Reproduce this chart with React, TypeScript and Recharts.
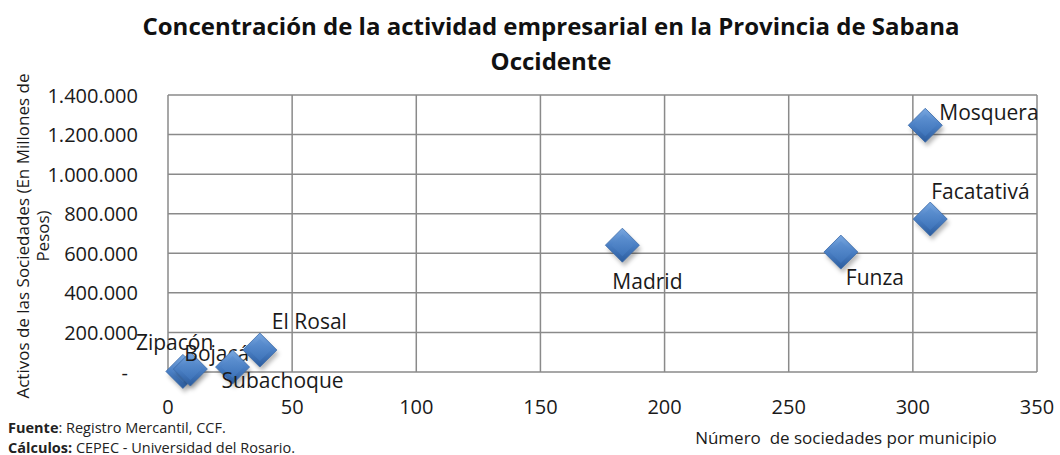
import React from "react";
import { ScatterChart, Scatter, XAxis, YAxis, CartesianGrid } from "recharts";

const municipios = ["Zipacón", "Bojacá", "Subachoque", "El Rosal", "Madrid", "Funza", "Mosquera", "Facatativá"];
const sociedades = [6, 9, 26, 37, 183, 271, 305, 307];
const activos = [3000, 15000, 25000, 111000, 641000, 606000, 1247000, 773000];
const xTicks = [0, 50, 100, 150, 200, 250, 300, 350];
const yTicks = [0, 200000, 400000, 600000, 800000, 1000000, 1200000, 1400000];

const title1 = "Concentración de la actividad empresarial en la Provincia de Sabana";
const title2 = "Occidente";
const xLabel = "Número  de sociedades por municipio";
const yLabel1 = "Activos de las Sociedades (En Millones de";
const yLabel2 = "Pesos)";

const data = municipios.map((m, i) => ({ name: m, x: sociedades[i], y: activos[i] }));

// label placement relative to marker centre: dx = left edge offset, dy = vertical centre offset
const labelPlace: Record<string, [number, number]> = {
  "Zipacón": [-47, -29],
  "Bojacá": [-6, -16],
  "Subachoque": [-11, 13],
  "El Rosal": [12, -29],
  "Madrid": [-10, 36],
  "Funza": [5, 25],
  "Mosquera": [14, -13],
  "Facatativá": [1, -28],
};

const FONT = "'Open Sans', sans-serif";

const fmt = (v: number) => String(v).replace(/\B(?=(\d{3})+(?!\d))/g, ".");

const Diamond = (props: any) => {
  const { cx, cy, payload } = props;
  if (cx == null || cy == null) return null;
  const r = 17;
  const pts = `${cx},${cy - r} ${cx + r},${cy} ${cx},${cy + r} ${cx - r},${cy}`;
  const sh = `${cx + 2},${cy - r + 4} ${cx + r + 2},${cy + 4} ${cx + 2},${cy + r + 4} ${cx - r + 2},${cy + 4}`;
  const ri = 11;
  const inner = `${cx},${cy - ri} ${cx + ri},${cy} ${cx},${cy + ri} ${cx - ri},${cy}`;
  const place = labelPlace[payload?.name] || [10, -20];
  return (
    <g>
      <polygon points={sh} fill="rgba(0,0,0,0.28)" filter="url(#blurShadow)" />
      <polygon points={pts} fill="url(#diaOuter)" stroke="#3a6aa8" strokeWidth={0.8} />
      <polygon points={inner} fill="url(#diaInner)" opacity={0.9} />
      <text
        x={cx + place[0]}
        y={cy + place[1]}
        dominantBaseline="central"
        fontFamily={FONT}
        fontSize={21}
        fill="#1a1a1a"
      >
        {payload?.name}
      </text>
    </g>
  );
};

const YTick = (props: any) => {
  const { x, y, payload } = props;
  const v = payload.value;
  if (v === 0) {
    return (
      <text x={x - 10} y={y} textAnchor="end" dominantBaseline="central" fontFamily={FONT} fontSize={20} fill="#1a1a1a">
        -
      </text>
    );
  }
  return (
    <text x={x} y={y} textAnchor="end" dominantBaseline="central" fontFamily={FONT} fontSize={20} fill="#1a1a1a">
      {fmt(v)}
    </text>
  );
};

export default function App() {
  return (
    <div style={{ position: "absolute", left: 0, top: 0, width: 1060, height: 455, background: "#fff" }}>
      <ScatterChart width={1060} height={455} margin={{ top: 95, right: 23, bottom: 0, left: 0 }}>
        <defs>
          <linearGradient id="diaOuter" x1="0" y1="0" x2="0" y2="1">
            <stop offset="0%" stopColor="#7aa8e0" />
            <stop offset="50%" stopColor="#4a7fc4" />
            <stop offset="100%" stopColor="#2b5c9e" />
          </linearGradient>
          <linearGradient id="diaInner" x1="0" y1="0" x2="0" y2="1">
            <stop offset="0%" stopColor="#5f92d2" />
            <stop offset="100%" stopColor="#3e74ba" />
          </linearGradient>
          <filter id="blurShadow" x="-50%" y="-50%" width="200%" height="200%">
            <feGaussianBlur stdDeviation="2" />
          </filter>
        </defs>
        <CartesianGrid stroke="#8a8a8a" strokeWidth={1.5} />
        <XAxis
          type="number"
          dataKey="x"
          domain={[0, 350]}
          ticks={xTicks}
          height={83}
          axisLine={false}
          tickLine={false}
          tickSize={0}
          tickMargin={28}
          tick={{ fontFamily: FONT, fontSize: 20, fill: "#1a1a1a" }}
          interval={0}
        />
        <YAxis
          type="number"
          dataKey="y"
          domain={[0, 1400000]}
          ticks={yTicks}
          width={168}
          axisLine={false}
          tickLine={false}
          tickSize={0}
          tickMargin={30}
          tick={<YTick />}
          interval={0}
        />
        <Scatter data={data} shape={<Diamond />} isAnimationActive={false} />
      </ScatterChart>
      <svg
        width={1060}
        height={455}
        style={{ position: "absolute", left: 0, top: 0, pointerEvents: "none" }}
      >
        <text x={551} y={25} textAnchor="middle" dominantBaseline="central" fontFamily={FONT} fontWeight="bold" fontSize={24} fill="#111">
          {title1}
        </text>
        <text x={551} y={60} textAnchor="middle" dominantBaseline="central" fontFamily={FONT} fontWeight="bold" fontSize={24} fill="#111">
          {title2}
        </text>
        <g transform="translate(22,236) rotate(-90)">
          <text x={0} y={0} textAnchor="middle" dominantBaseline="central" fontFamily={FONT} fontSize={17} fill="#1a1a1a">
            {yLabel1}
          </text>
        </g>
        <g transform="translate(42,236) rotate(-90)">
          <text x={0} y={0} textAnchor="middle" dominantBaseline="central" fontFamily={FONT} fontSize={17} fill="#1a1a1a">
            {yLabel2}
          </text>
        </g>
        <text x={846} y={437} textAnchor="middle" dominantBaseline="central" fontFamily={FONT} fontSize={17} fill="#1a1a1a" style={{ whiteSpace: "pre" }}>
          {xLabel}
        </text>
        <text x={8} y={427} dominantBaseline="central" fontFamily={FONT} fontSize={14.5} fill="#222">
          <tspan fontWeight="bold">Fuente</tspan>
          <tspan>: Registro Mercantil, CCF.</tspan>
        </text>
        <text x={8} y={447} dominantBaseline="central" fontFamily={FONT} fontSize={14.5} fill="#222">
          <tspan fontWeight="bold">Cálculos:</tspan>
          <tspan> CEPEC - Universidad del Rosario.</tspan>
        </text>
      </svg>
    </div>
  );
}
